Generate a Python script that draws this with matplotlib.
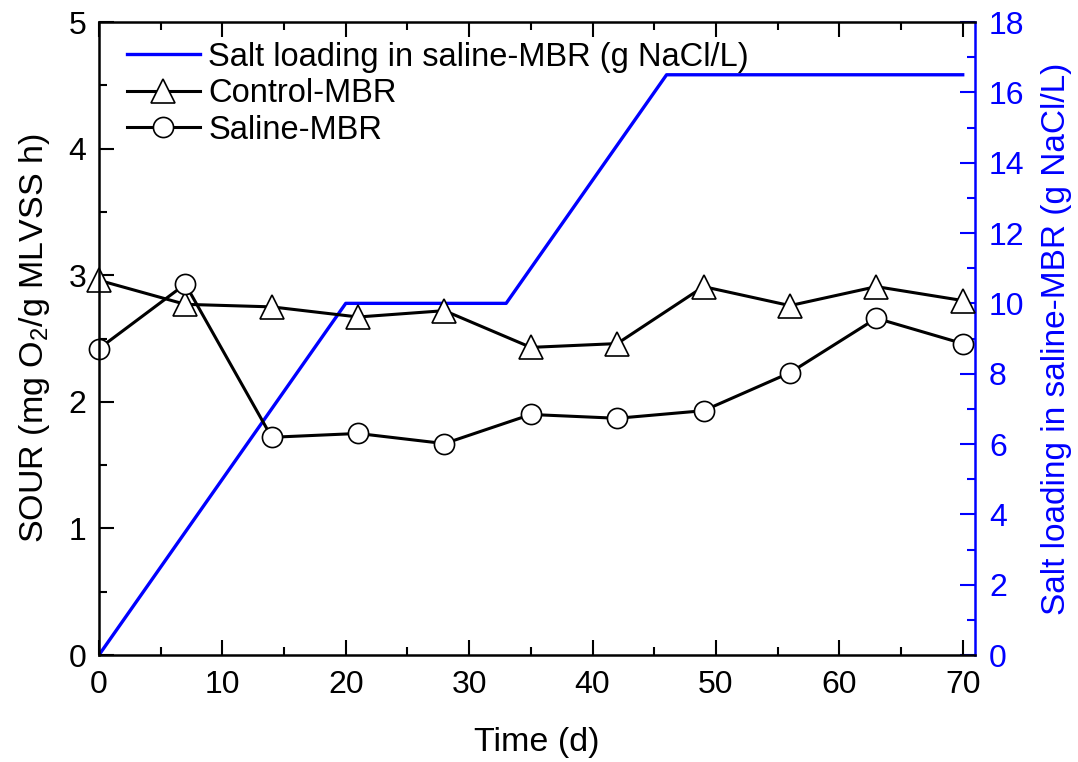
import numpy as np
import matplotlib.pyplot as plt
from matplotlib.ticker import MultipleLocator

plt.rcParams['font.family'] = ['Liberation Sans', 'DejaVu Sans']
plt.rcParams['mathtext.fontset'] = 'custom'
plt.rcParams['mathtext.rm'] = 'Liberation Sans'

# data
days = [0, 7, 14, 21, 28, 35, 42, 49, 56, 63, 70]
control_sour = [2.96, 2.77, 2.75, 2.67, 2.72, 2.43, 2.46, 2.91, 2.76, 2.91, 2.80]
saline_sour = [2.42, 2.93, 1.72, 1.75, 1.67, 1.90, 1.87, 1.93, 2.23, 2.66, 2.46]
salt_days = [0, 20, 33, 46, 70]
salt_load = [0, 10, 10, 16.5, 16.5]

fig = plt.figure(figsize=(10.78, 7.62), dpi=100)
ax = fig.add_axes([0.0918, 0.1404, 0.8127, 0.8307])
ax2 = ax.twinx()

# salt loading on the right axis
salt_line, = ax2.plot(salt_days, salt_load, color='blue', lw=2.4,
                      label='Salt loading in saline-MBR (g NaCl/L)')
ax2.set_ylim(0, 18)
ax2.yaxis.set_major_locator(MultipleLocator(2))
ax2.yaxis.set_minor_locator(MultipleLocator(1))
ax2.tick_params(axis='y', which='both', direction='in', colors='blue',
                labelsize=23, width=1.5, pad=10)
ax2.tick_params(axis='y', which='major', length=11)
ax2.tick_params(axis='y', which='minor', length=6)
ax2.spines['right'].set_color('blue')
ax2.spines['right'].set_linewidth(1.8)
ax2.spines['left'].set_visible(False)
ax2.spines['top'].set_visible(False)
ax2.spines['bottom'].set_visible(False)
ax2.set_ylabel('Salt loading in saline-MBR (g NaCl/L)', color='blue',
               fontsize=24, labelpad=12)

# SOUR curves on the left axis, drawn above the blue line
ax.set_zorder(ax2.get_zorder() + 1)
ax.patch.set_visible(False)
ctrl_line, = ax.plot(days, control_sour, color='black', lw=2.2, marker='^',
                     ms=17, mfc='white', mec='black', mew=1.2,
                     label='Control-MBR', clip_on=False)
sal_line, = ax.plot(days, saline_sour, color='black', lw=2.2, marker='o',
                    ms=14.5, mfc='white', mec='black', mew=1.2,
                    label='Saline-MBR', clip_on=False)

ax.set_xlim(0, 71)
ax.set_ylim(0, 5)
ax.xaxis.set_major_locator(MultipleLocator(10))
ax.xaxis.set_minor_locator(MultipleLocator(5))
ax.yaxis.set_major_locator(MultipleLocator(1))
ax.yaxis.set_minor_locator(MultipleLocator(0.5))
ax.tick_params(which='both', direction='in', top=True, right=False,
               labelsize=23, width=1.5)
ax.tick_params(axis='x', pad=11)
ax.tick_params(axis='y', pad=9)
ax.tick_params(which='major', length=11)
ax.tick_params(which='minor', length=6)
for side in ['left', 'bottom', 'top']:
    ax.spines[side].set_linewidth(1.8)
ax.spines['right'].set_visible(False)

ax.set_xlabel('Time (d)', fontsize=24.5, labelpad=19)
ax.set_ylabel('SOUR (mg O$_2$/g MLVSS h)', fontsize=24.5, labelpad=12)

ax.legend(handles=[salt_line, ctrl_line, sal_line], loc='upper left',
          bbox_to_anchor=(0.0, 1.013), frameon=False, fontsize=23.5,
          handlelength=2.25, handletextpad=0.25, labelspacing=0.17,
          borderaxespad=0.45)

fig.savefig('out.png', dpi=100)
